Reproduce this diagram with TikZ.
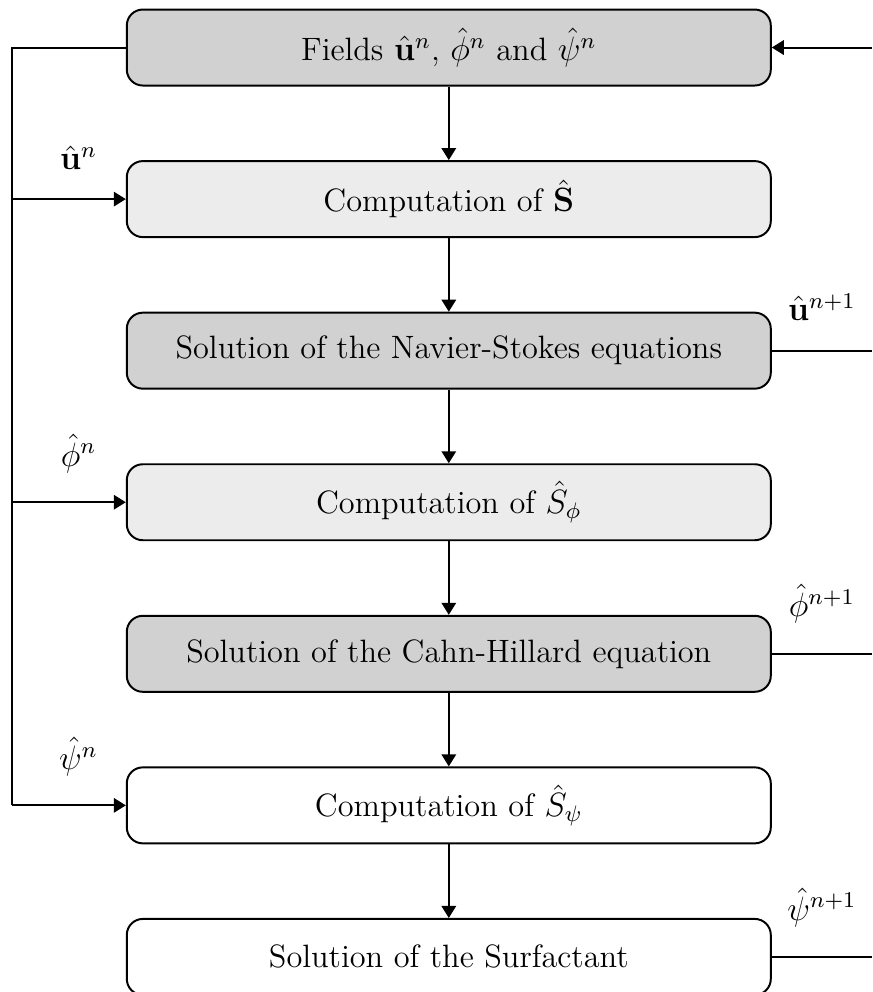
\documentclass[tikz,border=0pt]{standalone}
\usepackage{amsmath,amssymb}
\usetikzlibrary{arrows.meta,positioning}
\definecolor{stepdark}{RGB}{209,209,209}
\definecolor{steplight}{RGB}{236,236,236}

\begin{document}
\begin{tikzpicture}[node distance=9.2mm,line width=0.7pt,
    font=\fontsize{11.5}{13.8}\selectfont,
    >={Triangle[length=1.5mm,width=1.8mm]},
    box/.style={draw,rounded corners=2mm,minimum width=8.05cm,minimum height=9.5mm},
    inlbl/.style={above=2.4mm,xshift=1.2mm}]
  \useasboundingbox (0,0) rectangle (10.9,-12.4);
  \coordinate (bus) at (0.15,0);
  \coordinate (rim) at (10.9,0);
  % steps of the scheme
  \node[box,fill=stepdark] (fields) at (5.61,-0.594) {Fields $\hat{\mathbf{u}}^n$, $\hat{\phi}^n$ and $\hat{\psi}^n$};
  \node[box,fill=steplight,below=of fields] (compS) {Computation of $\hat{\mathbf{S}}$};
  \node[box,fill=stepdark,below=of compS] (solNS) {Solution of the Navier-Stokes equations};
  \node[box,fill=steplight,below=of solNS] (compPhi) {Computation of $\hat{S}_\phi$};
  \node[box,fill=stepdark,below=of compPhi] (solCH) {Solution of the Cahn-Hillard equation};
  \node[box,fill=white,below=of solCH] (compPsi) {Computation of $\hat{S}_\psi$};
  \node[box,fill=white,below=of compPsi] (solSurf) {Solution of the Surfactant};
  \draw[->] (fields) -- (compS);
  \draw[->] (compS) -- (solNS);
  \draw[->] (solNS) -- (compPhi);
  \draw[->] (compPhi) -- (solCH);
  \draw[->] (solCH) -- (compPsi);
  \draw[->] (compPsi) -- (solSurf);
  % old fields fed to the source terms
  \draw (fields.west) -- (fields.west -| bus) -- (compPsi.west -| bus);
  \draw[->] (compS.west -| bus) -- node[inlbl] {$\hat{\mathbf{u}}^n$} (compS.west);
  \draw[->] (compPhi.west -| bus) -- node[inlbl] {$\hat{\phi}^n$} (compPhi.west);
  \draw[->] (compPsi.west -| bus) -- node[inlbl] {$\hat{\psi}^n$} (compPsi.west);
  % new fields back to the top
  \draw (solNS.east) -- node[above=2.5mm] {$\hat{\mathbf{u}}^{n+1}$} (solNS.east -| rim);
  \draw (solCH.east) -- node[above=2.5mm] {$\hat{\phi}^{n+1}$} (solCH.east -| rim);
  \draw (solSurf.east) -- node[above=2.5mm] {$\hat{\psi}^{n+1}$} (solSurf.east -| rim);
  \draw[->] (fields.east -| rim) -- (fields.east);
\end{tikzpicture}
\end{document}
